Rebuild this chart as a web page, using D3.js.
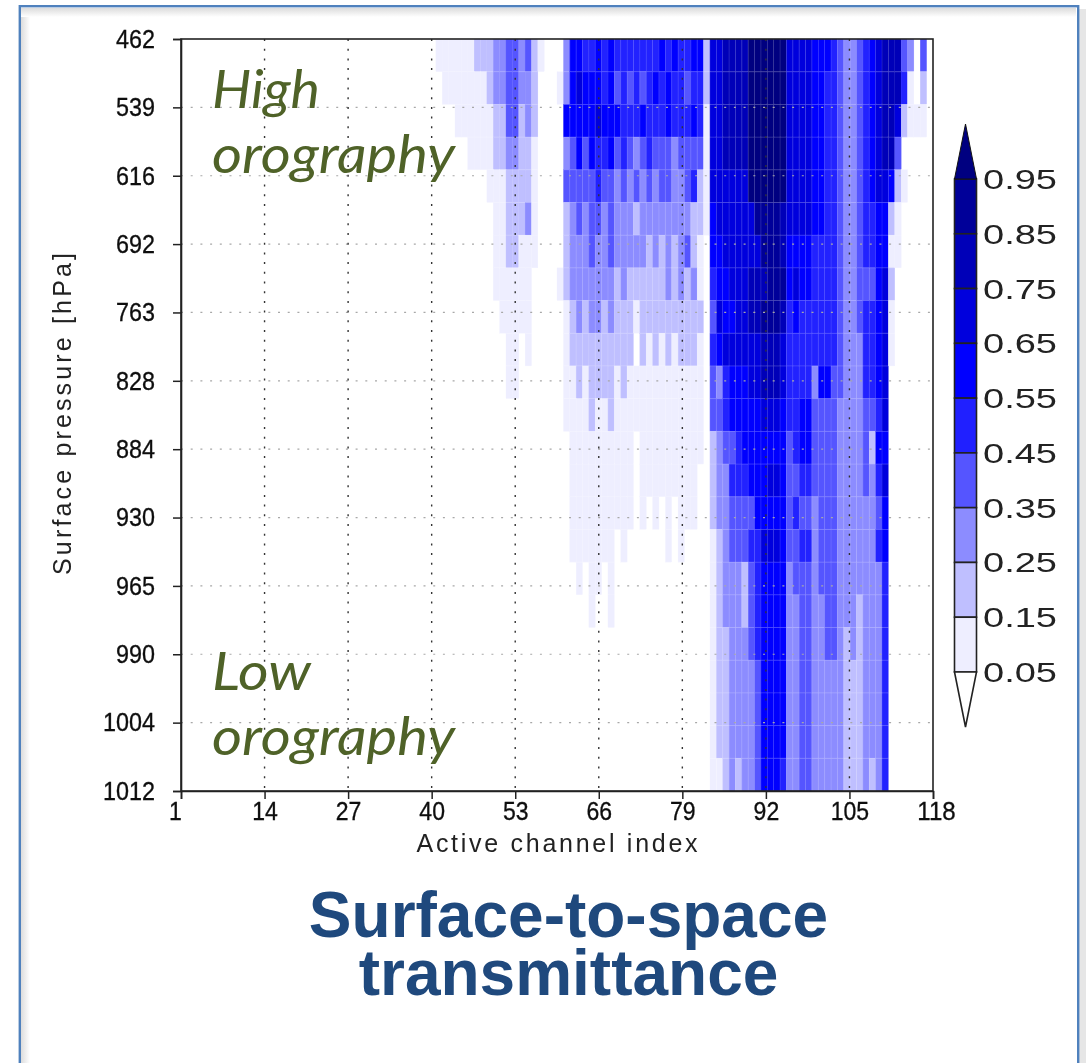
<!DOCTYPE html>
<html><head><meta charset="utf-8">
<script src="https://d3js.org/d3.v7.min.js"></script>
<style>html,body{margin:0;padding:0;background:#fff;overflow:hidden}svg{display:block}</style>
</head><body><svg id="c" width="1086" height="1063"></svg>
<script>
// Pressure ticks (hPa) and channel ticks
const pressureTicks = [462,539,616,692,763,828,884,930,965,990,1004,1012];
const channelTicks = [1,14,27,40,53,66,79,92,105,118];
const barLabels = [0.95,0.85,0.75,0.65,0.55,0.45,0.35,0.25,0.15,0.05];
const classMidpoints = [0.02,0.10,0.20,0.30,0.40,0.50,0.60,0.70,0.80,0.90,0.98];
const classColors = ["#ffffff","#eeeeff","#bfbfff","#8c8cff","#5555ff","#2020ff","#0000ff","#0000dd","#0000b8","#000099","#000080"];
// Each row: runs [first channel column, transmittance class] from left to right
const row00=[[40,1],[46,2],[49,3],[51,4],[53,3],[54,4],[55,2],[56,1],[57,0],[60,3],[61,6],[63,5],[65,6],[66,5],[67,6],[68,5],[75,6],[76,5],[77,6],[78,5],[80,6],[82,2],[83,7],[85,8],[89,10],[95,7],[99,6],[102,5],[103,4],[104,3],[106,4],[107,5],[108,6],[109,7],[110,8],[113,4],[114,3],[115,0],[116,4],[117,0]];
const row01=[[41,1],[48,2],[49,3],[51,4],[53,3],[55,2],[56,0],[59,1],[60,3],[61,6],[62,7],[63,6],[66,5],[67,6],[68,4],[69,5],[70,4],[71,5],[72,4],[73,5],[74,6],[75,5],[76,6],[77,5],[79,4],[80,5],[82,2],[83,7],[85,8],[89,10],[95,7],[99,6],[101,5],[103,4],[104,3],[106,4],[107,5],[108,6],[109,7],[110,8],[113,5],[114,1],[115,0],[116,2],[117,0]];
const row02=[[43,1],[49,2],[51,4],[53,2],[54,3],[55,2],[56,0],[60,6],[65,7],[66,6],[69,5],[72,6],[73,5],[76,6],[77,5],[80,6],[81,5],[82,1],[83,7],[85,8],[89,10],[95,7],[99,6],[101,5],[103,4],[104,3],[106,4],[107,5],[108,6],[109,7],[110,8],[112,7],[113,2],[114,1],[117,0]];
const row03=[[45,1],[49,2],[51,3],[53,2],[55,1],[56,0],[60,3],[61,4],[62,6],[63,4],[64,6],[65,5],[66,5],[67,6],[68,4],[69,5],[70,4],[71,3],[72,4],[73,5],[74,4],[77,3],[78,4],[82,1],[83,7],[85,8],[89,10],[95,7],[99,6],[101,5],[103,4],[104,3],[106,4],[107,5],[108,6],[109,7],[110,8],[112,4],[113,0]];
const row04=[[48,1],[51,2],[55,1],[56,0],[60,4],[65,5],[66,4],[68,3],[69,4],[70,3],[71,4],[72,3],[73,4],[74,3],[75,4],[77,3],[79,4],[80,5],[81,2],[82,1],[83,7],[89,10],[95,7],[99,6],[101,5],[103,4],[104,3],[106,4],[107,5],[108,6],[109,7],[111,6],[112,2],[113,1],[114,0]];
const row05=[[49,1],[51,2],[54,3],[55,1],[56,0],[60,2],[61,3],[62,4],[63,3],[64,4],[66,3],[67,4],[68,3],[71,2],[72,3],[80,2],[82,1],[83,6],[84,7],[90,9],[94,8],[95,7],[99,6],[101,5],[103,4],[104,3],[106,4],[107,5],[109,6],[111,2],[112,1],[113,0]];
const row06=[[49,1],[51,2],[53,1],[56,0],[60,2],[61,3],[64,4],[65,3],[67,4],[68,3],[73,2],[74,3],[75,2],[76,3],[77,2],[78,3],[79,4],[80,2],[81,1],[82,0],[83,6],[85,7],[91,9],[94,8],[95,6],[99,5],[103,4],[104,3],[106,4],[107,5],[109,6],[111,1],[113,0]];
const row07=[[49,1],[55,0],[59,1],[60,2],[61,3],[68,2],[69,3],[70,2],[76,3],[77,2],[78,3],[79,2],[80,3],[81,1],[82,0],[83,5],[84,6],[86,7],[89,8],[92,9],[95,6],[96,7],[97,6],[99,5],[103,4],[104,3],[106,4],[109,6],[110,7],[111,2],[112,0]];
const row08=[[50,1],[55,0],[60,1],[61,2],[62,3],[63,2],[64,3],[66,2],[67,3],[68,2],[71,1],[72,2],[82,0],[83,4],[84,7],[85,6],[87,7],[89,8],[91,9],[94,8],[95,5],[96,6],[97,5],[103,4],[104,3],[106,4],[107,5],[109,6],[110,7],[111,1],[112,0]];
const row09=[[51,1],[53,0],[54,1],[55,0],[60,1],[61,2],[71,0],[72,2],[73,1],[74,2],[75,1],[76,2],[77,1],[78,2],[81,1],[82,0],[83,5],[84,6],[85,7],[91,8],[94,7],[95,5],[103,4],[104,3],[107,5],[109,6],[110,7],[111,1],[112,0]];
const row10=[[51,1],[53,0],[60,1],[62,2],[63,1],[64,2],[68,1],[69,2],[70,1],[82,0],[83,4],[84,3],[85,5],[86,6],[89,7],[91,8],[94,7],[95,5],[99,3],[100,6],[102,4],[104,3],[107,5],[109,6],[110,7],[111,0]];
const row11=[[60,1],[64,2],[65,1],[67,2],[68,1],[82,0],[83,4],[85,5],[86,6],[91,7],[94,6],[95,5],[97,6],[99,4],[103,3],[107,4],[109,5],[110,7],[111,0]];
const row12=[[61,1],[71,0],[72,1],[82,0],[83,2],[84,3],[85,4],[87,5],[88,6],[95,4],[96,5],[97,6],[99,4],[103,3],[107,4],[108,2],[109,6],[111,0]];
const row13=[[61,1],[71,0],[72,1],[81,0],[83,2],[84,3],[86,5],[89,6],[92,7],[94,6],[95,4],[97,5],[99,4],[103,3],[107,4],[108,3],[109,5],[110,7],[111,0]];
const row14=[[61,1],[71,0],[72,1],[73,0],[74,1],[75,0],[76,1],[77,0],[78,1],[81,0],[83,2],[84,3],[86,4],[90,6],[95,4],[96,5],[97,4],[99,3],[100,4],[103,3],[109,4],[110,6],[111,0]];
const row15=[[61,1],[68,0],[69,1],[70,0],[76,1],[77,0],[78,1],[79,0],[83,1],[84,2],[85,3],[86,4],[89,5],[91,7],[94,6],[95,4],[97,5],[99,3],[100,4],[103,3],[109,5],[110,6],[111,0]];
const row16=[[62,1],[63,0],[64,1],[66,0],[67,1],[68,0],[83,1],[84,2],[85,3],[88,2],[89,4],[90,5],[91,6],[95,3],[96,4],[99,3],[100,4],[103,3],[110,5],[111,0]];
const row17=[[64,1],[65,0],[67,1],[68,0],[83,1],[84,2],[85,3],[88,2],[89,4],[90,5],[91,6],[95,3],[97,4],[99,3],[101,4],[103,3],[106,2],[107,3],[110,5],[111,0]];
const row18=[[83,1],[84,2],[86,3],[89,4],[90,5],[91,6],[95,3],[97,4],[99,3],[101,4],[103,3],[104,2],[105,3],[106,2],[107,3],[110,5],[111,0]];
const row19=[[83,1],[84,2],[86,3],[90,4],[91,6],[95,3],[97,4],[99,3],[104,2],[107,3],[110,5],[111,0]];
const row20=[[83,1],[84,2],[86,3],[90,4],[91,6],[95,3],[97,4],[99,3],[104,2],[107,3],[110,5],[111,0]];
const row21=[[83,1],[84,2],[86,3],[90,4],[91,6],[95,3],[97,4],[99,3],[104,2],[107,3],[110,5],[111,0]];
const row22=[[83,1],[85,2],[86,3],[87,2],[88,3],[90,4],[91,6],[94,5],[95,3],[97,4],[99,3],[104,2],[107,3],[108,2],[109,3],[110,5],[111,0]];
const rowRuns=[row00,row01,row02,row03,row04,row05,row06,row07,row08,row09,row10,row11,row12,row13,row14,row15,row16,row17,row18,row19,row20,row21,row22];

const svg=d3.select("#c");
const L=181,R=933,T=39,B=791;
const x=d3.scaleLinear().domain([1,118]).range([L,R]);
const xCell=d3.scaleBand().domain(d3.range(118)).range([L,R]);
const yRow=d3.scaleBand().domain(d3.range(rowRuns.length)).range([T,B]);
const yTick=d3.scalePoint().domain(pressureTicks).range([T,B]);
const color=d3.scaleThreshold().domain([0.05,0.15,0.25,0.35,0.45,0.55,0.65,0.75,0.85,0.95]).range(classColors);

// page frame
const defs=svg.append("defs");
const gH=defs.append("linearGradient").attr("id","gL");
gH.append("stop").attr("offset",0).attr("stop-color","#dcdcdc");gH.append("stop").attr("offset",1).attr("stop-color","#fff");
const gT=defs.append("linearGradient").attr("id","gT").attr("x2",0).attr("y2",1);
gT.append("stop").attr("offset",0).attr("stop-color","#dcdcdc");gT.append("stop").attr("offset",1).attr("stop-color","#fff");
defs.append("filter").attr("id","soft").attr("x",0).attr("y",0).attr("width",1).attr("height",1).append("feGaussianBlur").attr("stdDeviation",0.75);
defs.append("filter").attr("id","softText").append("feGaussianBlur").attr("stdDeviation",0.4);
svg.append("rect").attr("x",21).attr("y",8).attr("width",9).attr("height",1055).attr("fill","url(#gL)");
svg.append("rect").attr("x",21).attr("y",8).attr("width",1055).attr("height",9).attr("fill","url(#gT)");
svg.append("rect").attr("x",1079).attr("y",9).attr("width",7).attr("height",1054).attr("fill","#e6e6e6");
svg.append("rect").attr("x",19.8).attr("y",6.2).attr("width",1058.4).attr("height",1070).attr("fill","none").attr("stroke","#4f81bd").attr("stroke-width",2.4);

// cells
const cells=[];
rowRuns.forEach((runs,r)=>runs.forEach((run,i)=>{
  const end=i+1<runs.length?runs[i+1][0]:118;
  d3.range(run[0],end).forEach(c=>cells.push({r,c,v:classMidpoints[run[1]]}));
}));
const heat=svg.append("g").attr("filter","url(#soft)");
heat.append("g").selectAll("rect").data(cells.filter(d=>d.v>=0.05)).join("rect")
  .attr("x",d=>xCell(d.c)).attr("y",d=>yRow(d.r))
  .attr("width",xCell.bandwidth()).attr("height",yRow.bandwidth())
  .attr("fill",d=>color(d.v)).attr("stroke",d=>color(d.v)).attr("stroke-width",0.3);
// pale seams between rows and channels
heat.append("g").selectAll("line").data(d3.range(1,rowRuns.length)).join("line")
  .attr("x1",L).attr("x2",R).attr("y1",d=>yRow(d)).attr("y2",d=>yRow(d))
  .attr("stroke","#fff").attr("stroke-opacity",0.16).attr("stroke-width",1);
heat.append("g").selectAll("line").data(d3.range(60,112)).join("line")
  .attr("y1",T).attr("y2",B).attr("x1",d=>xCell(d)).attr("x2",d=>xCell(d))
  .attr("stroke","#fff").attr("stroke-opacity",0.12).attr("stroke-width",1);

// grid
svg.append("g").selectAll("line").data(pressureTicks.slice(1,-1)).join("line")
  .attr("x1",L).attr("x2",R).attr("y1",d=>yTick(d)).attr("y2",d=>yTick(d))
  .attr("stroke","#a8a8a8").attr("stroke-width",1.2).attr("stroke-dasharray","2 7.7");
svg.append("g").selectAll("line").data(channelTicks.slice(1,-1)).join("line")
  .attr("x1",d=>x(d)).attr("x2",d=>x(d)).attr("y1",T).attr("y2",B)
  .attr("stroke","#333").attr("stroke-width",1.4).attr("stroke-dasharray","2 7.7");

// axes
const tickFont="'Liberation Sans',Arial,sans-serif";
const ax=svg.append("g").attr("transform",`translate(0,${B})`).call(d3.axisBottom(x).tickValues(channelTicks).tickSize(8).tickFormat(d3.format("d")));
const ay=svg.append("g").attr("transform",`translate(${L},0)`).call(d3.axisLeft(yTick).tickSize(8).tickPadding(0));
[ax,ay].forEach(a=>{a.select(".domain").attr("stroke","#222").attr("stroke-width",1.6);a.selectAll(".tick line").attr("stroke","#222").attr("stroke-width",1.5);});
ax.selectAll("text").attr("font-family",tickFont).attr("font-size",26).attr("fill","#111").attr("stroke","#111").attr("stroke-width",0.35).attr("filter","url(#softText)").attr("x",d=>d===1?-6:d===118?3:0).attr("y",11).attr("dy","0.71em").attr("textLength",d=>String(d).length*12.8).attr("lengthAdjust","spacingAndGlyphs");
ay.selectAll("text").attr("font-family",tickFont).attr("font-size",26).attr("fill","#111").attr("stroke","#111").attr("stroke-width",0.35).attr("filter","url(#softText)").attr("x",-26).attr("textLength",d=>String(d).length*13).attr("lengthAdjust","spacingAndGlyphs");
svg.append("rect").attr("x",L).attr("y",T).attr("width",R-L).attr("height",B-T).attr("fill","none").attr("stroke","#222").attr("stroke-width",1.6);

// axis titles
svg.append("text").attr("transform","translate(71,414) rotate(-90)").attr("text-anchor","middle").attr("font-family",tickFont).attr("font-size",25).attr("fill","#222").attr("filter","url(#softText)").attr("textLength",322).attr("lengthAdjust","spacing").text("Surface pressure [hPa]");
svg.append("text").attr("x",557).attr("y",852).attr("text-anchor","middle").attr("font-family",tickFont).attr("font-size",25).attr("fill","#222").attr("filter","url(#softText)").attr("textLength",281).attr("lengthAdjust","spacing").text("Active channel index");

// annotations
const olive="#4f6228";
[["High",108,108],["orography",173,243],["Low",690,99],["orography",755,243]].forEach(([t,yy,w])=>{
  svg.append("text").attr("x",212).attr("y",yy).attr("font-family","Lato,'Open Sans',sans-serif").attr("font-style","italic").attr("font-size",53).attr("fill",olive).attr("textLength",w).attr("lengthAdjust","spacingAndGlyphs").text(t);
});
// title
[["Surface-to-space",937],["transmittance",995]].forEach(([t,yy])=>{
  svg.append("text").attr("x",568.5).attr("y",yy).attr("text-anchor","middle").attr("font-family","'Liberation Sans',Arial,sans-serif").attr("font-weight","bold").attr("font-size",64).attr("fill","#1f497d").text(t);
});

// colour bar
const bx0=954.5,bx1=976.5;
const yBar=d3.scalePoint().domain(barLabels).range([179,672]);
const bar=svg.append("g");
const lineStyle=s=>s.attr("stroke","#222").attr("stroke-width",1.6);
barLabels.slice(0,-1).forEach((v,i)=>{
  bar.append("rect").attr("x",bx0).attr("width",bx1-bx0).attr("y",yBar(v)).attr("height",yBar(barLabels[i+1])-yBar(v)).attr("fill",color(v-0.05)).call(lineStyle);
});
const cx=(bx0+bx1)/2;
bar.append("path").attr("d",d3.line()([[bx0,179],[cx,124],[bx1,179]])+"Z").attr("fill",classColors[10]).attr("stroke","#111").attr("stroke-width",1);
bar.append("path").attr("d",d3.line()([[bx0,672],[cx,727],[bx1,672]])+"Z").attr("fill","#fff").call(lineStyle);
svg.append("g").selectAll("text").data(barLabels).join("text")
  .attr("x",983).attr("y",d=>yBar(d)+10).attr("font-family","'Liberation Sans',Arial,sans-serif").attr("font-size",28).attr("fill","#222").attr("filter","url(#softText)")
  .attr("textLength",74).attr("lengthAdjust","spacingAndGlyphs").text(d=>d.toFixed(2));
</script></body></html>
